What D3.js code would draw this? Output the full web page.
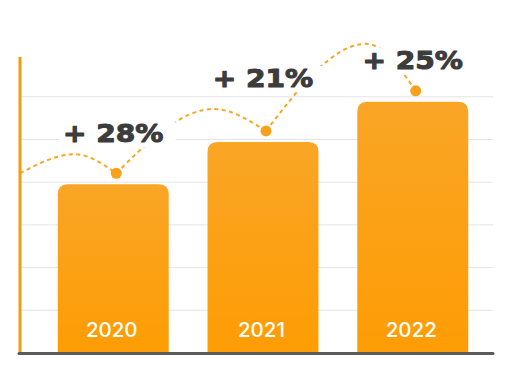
<!DOCTYPE html>
<html>
<head>
<meta charset="utf-8">
<script src="https://cdn.jsdelivr.net/npm/d3@7"></script>
<style>
  html, body { margin: 0; padding: 0; background: #fff; }
  svg { display: block; }
</style>
</head>
<body>
<svg id="chart"></svg>
<script>
// growth bars with dashed hop arcs between them

const YEARS   = ['2020', '2021', '2022'];
const VALUES  = [39.4, 49.3, 58.7];
const GROWTH  = ['+ 28%', '+ 21%', '+ 25%'];
const GRID_TICKS = [10, 20, 30, 40, 50, 60];

// layout tweaks for the annotation (px / fractions, not data)
const LABEL_RISE = [42, 55, 33];      // label baseline above bar top
const ARC_PEAK_AT = [0.57, 0.65, 0.67];
const ARC_LIFT   = [19, 22, 47];

const W = 517, H = 374;
const ORANGE = '#f9a11b';

const svg = d3.select('#chart').attr('width', W).attr('height', H);

const x = d3.scaleBand().domain(YEARS).range([36.2, 489.8])
    .paddingInner(0.259).paddingOuter(0.144);
const y = d3.scaleLinear().domain([0, 69.2]).range([352.5, 57]);

const defs = svg.append('defs');
const grad = defs.append('linearGradient').attr('id', 'barGrad')
    .attr('x1', 0).attr('y1', 0).attr('x2', 0).attr('y2', 1);
grad.append('stop').attr('offset', '0%').attr('stop-color', '#f9a526');
grad.append('stop').attr('offset', '100%').attr('stop-color', '#fe9d04');

// ── Grid ────────────────────────────────────────────────────────────────
svg.append('g')
    .attr('transform', 'translate(20,0)')
    .call(d3.axisLeft(y).tickValues(GRID_TICKS).tickSize(-473).tickFormat(''))
    .call(g => g.select('.domain').remove())
    .call(g => g.selectAll('line').attr('stroke', '#e4e4e4').attr('stroke-width', 1));

// ── Bars (rounded top only) ─────────────────────────────────────────────
const r = 10;
function barPath(d, i) {
    const x0 = x(YEARS[i]), x1 = x0 + x.bandwidth();
    const yt = y(d), yb = y(0);
    return `M${x0},${yb} V${yt + r} Q${x0},${yt} ${x0 + r},${yt} H${x1 - r} Q${x1},${yt} ${x1},${yt + r} V${yb} Z`;
}
svg.append('g').selectAll('path').data(VALUES).join('path')
    .attr('d', barPath)
    .attr('fill', 'url(#barGrad)');

svg.append('g').selectAll('text').data(YEARS).join('text')
    .attr('x', d => x(d) + x.bandwidth() / 2 - 1.5)
    .attr('y', 337)
    .attr('text-anchor', 'middle')
    .attr('fill', '#fff')
    .attr('font-family', 'Inter, Roboto, sans-serif')
    .attr('font-weight', 500)
    .attr('font-size', '20.5px')
    .text(d => d);

// ── Dashed hop arcs ─────────────────────────────────────────────────────
const dots = VALUES.map((v, i) => ({
    x: x(YEARS[i]) + x.bandwidth() / 2 + 3,
    y: y(v) - 11
}));
const starts = [{ x: 20, y: dots[0].y }].concat(dots.slice(0, -1));
const line = d3.line().x(d => d.x).y(d => d.y).curve(d3.curveMonotoneX);

svg.append('g').selectAll('path').data(dots).join('path')
    .attr('d', (b, i) => {
        const a = starts[i];
        const peak = {
            x: a.x + (b.x - a.x) * ARC_PEAK_AT[i],
            y: Math.min(a.y, b.y) - ARC_LIFT[i]
        };
        return line([a, peak, b]);
    })
    .attr('fill', 'none')
    .attr('stroke', '#f9a621')
    .attr('stroke-width', 2)
    .attr('stroke-dasharray', '4 3.5');

// ── Growth labels with white backing ───────────────────────────────────
const labG = svg.append('g');
GROWTH.forEach((t, i) => {
    const cx = x(YEARS[i]) + x.bandwidth() / 2;
    const base = y(VALUES[i]) - LABEL_RISE[i];
    const bg = labG.append('rect').attr('fill', '#fff');
    const txt = labG.append('text')
        .attr('x', cx).attr('y', base)
        .attr('text-anchor', 'middle')
        .attr('fill', '#3c3c3c')
        .attr('stroke', '#3c3c3c').attr('stroke-width', 1)
        .attr('stroke-linejoin', 'round')
        .attr('font-family', '"DejaVu Sans", Verdana, sans-serif')
        .attr('font-weight', 'bold')
        .attr('font-size', '24px')
        .text(t);
    const natural = txt.node().getComputedTextLength();
    const wTxt = natural * 1.17;
    txt.attr('textLength', wTxt).attr('lengthAdjust', 'spacingAndGlyphs');
    bg.attr('x', cx - wTxt / 2 - 4).attr('y', base - 21)
        .attr('width', wTxt + 16).attr('height', 26);
});

// ── Dots ───────────────────────────────────────────────────────────────
svg.append('g').selectAll('circle').data(dots).join('circle')
    .attr('cx', d => d.x).attr('cy', d => d.y).attr('r', 5.5)
    .attr('fill', ORANGE);

// ── Axes lines ─────────────────────────────────────────────────────────
svg.append('line')
    .attr('x1', 20).attr('x2', 20).attr('y1', y.range()[1]).attr('y2', y(0) + 1)
    .attr('stroke', '#f59c0d').attr('stroke-width', 3);
svg.append('line')
    .attr('x1', 19).attr('x2', 493).attr('y1', y(0) + 1).attr('y2', y(0) + 1)
    .attr('stroke', '#5b5b5b').attr('stroke-width', 3).attr('stroke-linecap', 'round');
</script>
</body>
</html>
